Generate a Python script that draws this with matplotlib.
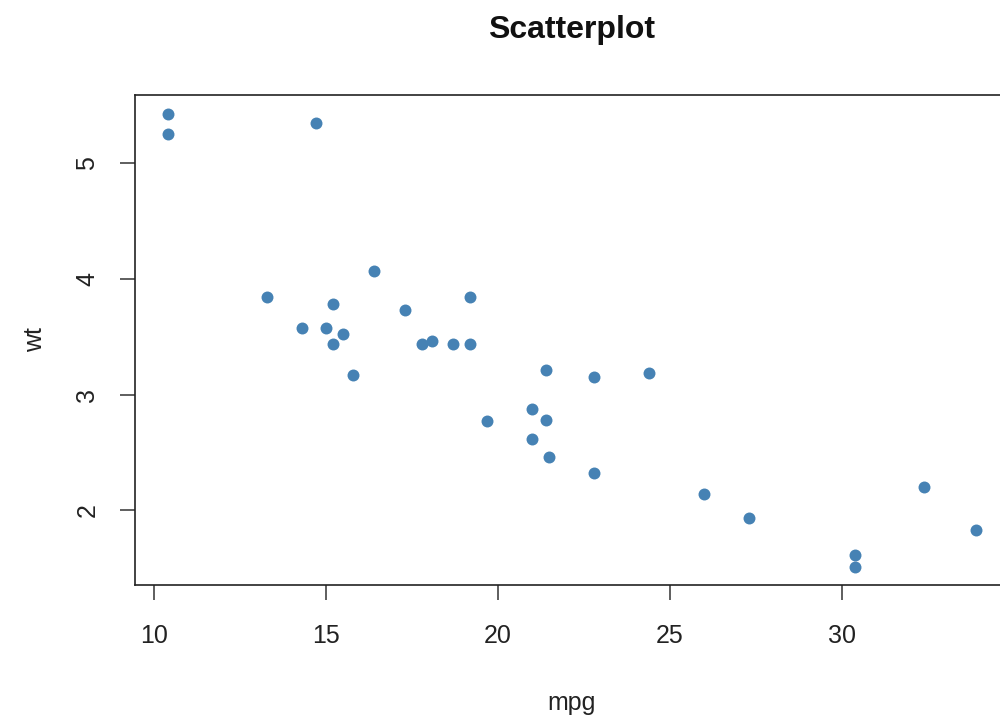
import matplotlib
matplotlib.use("Agg")
import matplotlib.pyplot as plt

plt.rcParams["font.family"] = ["Liberation Sans", "DejaVu Sans"]

# mtcars: mpg vs wt
mpg = [21.0, 21.0, 22.8, 21.4, 18.7, 18.1, 14.3, 24.4, 22.8, 19.2, 17.8,
       16.4, 17.3, 15.2, 10.4, 10.4, 14.7, 32.4, 30.4, 33.9, 21.5, 15.5,
       15.2, 13.3, 19.2, 27.3, 26.0, 30.4, 15.8, 19.7, 15.0, 21.4]
wt = [2.620, 2.875, 2.320, 3.215, 3.440, 3.460, 3.570, 3.190, 3.150, 3.440,
      3.440, 4.070, 3.730, 3.780, 5.250, 5.424, 5.345, 2.200, 1.615, 1.835,
      2.465, 3.520, 3.435, 3.840, 3.845, 1.935, 2.140, 1.513, 3.170, 2.770,
      3.570, 2.780]
x_ticks = [10, 15, 20, 25, 30]
y_ticks = [2, 3, 4, 5]

fig = plt.figure(figsize=(10, 7.18), dpi=100)
# plot region runs past the right edge, as in the reference
ax = fig.add_axes([0.1354, 0.1852, 0.8726, 0.6818])

ax.plot(mpg, wt, "o", color="#4682B4", markersize=8.6, markeredgewidth=0)

# R style 4% padding on each side
xr = max(mpg) - min(mpg)
yr = max(wt) - min(wt)
ax.set_xlim(min(mpg) - 0.04 * xr, max(mpg) + 0.04 * xr)
ax.set_ylim(min(wt) - 0.04 * yr, max(wt) + 0.04 * yr)

ax.set_xticks(x_ticks)
ax.set_yticks(y_ticks)
for s in ax.spines.values():
    s.set_linewidth(1.2)
    s.set_color("#222222")
ax.tick_params(direction="out", length=11, width=1.1, color="#333333",
               labelsize=18, labelcolor="#222222")
ax.tick_params(axis="x", pad=17)
ax.tick_params(axis="y", pad=15, labelrotation=90)
for lab in ax.get_yticklabels():
    lab.set_va("center")

fig.text(0.572, 1 - 30 / 718, "Scatterplot", ha="center", va="center",
         fontsize=23, fontweight="bold", color="#111111")
fig.text(0.572, 1 - 703 / 718, "mpg", ha="center", va="center",
         fontsize=18, color="#222222")
fig.text(0.035, 1 - 340 / 718, "wt", ha="center", va="center",
         fontsize=18, rotation=90, color="#222222")

fig.savefig("out.png", dpi=100)
